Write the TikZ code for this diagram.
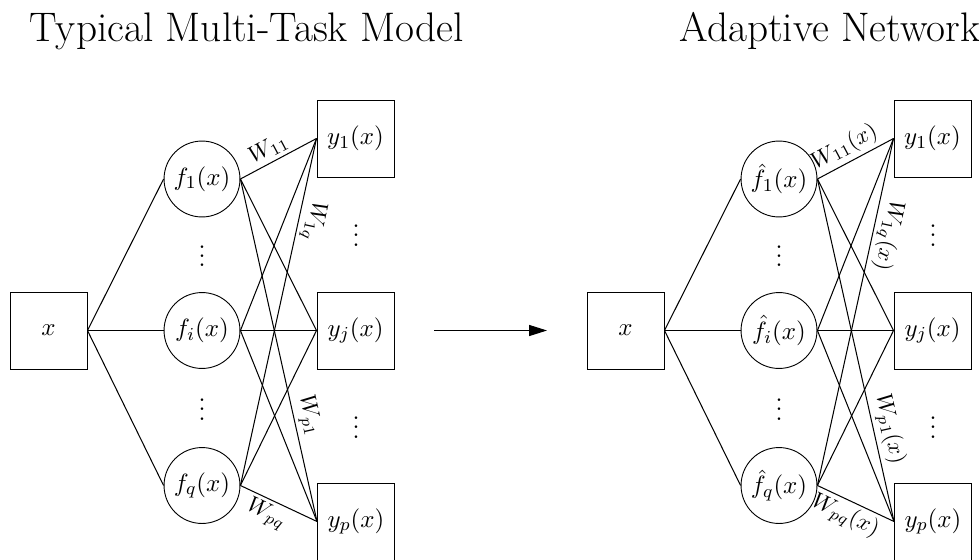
\documentclass[tikz,border=0pt]{standalone}
\usetikzlibrary{arrows.meta}
\begin{document}
\begin{tikzpicture}[x=0.4386pt,y=-0.4386pt,
  nodefont/.style={font=\fontsize{10.95}{13}\selectfont},
  outbox/.style={nodefont, draw, minimum size=33.8pt, inner sep=1pt},
  fcirc/.style={nodefont, draw, circle, minimum size=33.3pt, inner sep=0.5pt},
  titletext/.style={font=\fontsize{18.1}{22}\selectfont, anchor=base west, inner sep=0pt},
  wlab/.style={font=\fontsize{10.4}{12}\selectfont, sloped, allow upside down, inner sep=1.5pt},
  dotsnode/.style={nodefont, anchor=base, inner sep=0pt},
  conn/.style={draw, line width=0.45pt}]
\useasboundingbox (0,0) rectangle (979,559);

% titles
\node[titletext] (t1) at (29,42) {Typical Multi-Task Model};
\node[titletext] (t2) at (679,42) {Adaptive Network};

% ---------- left model ----------
\node[outbox] (xL) at (48.5,330.5) {$x$};
\node[fcirc] (f1L) at (202,179) {$f_1(x)$};
\node[fcirc] (fiL) at (202,330.5) {$f_i(x)$};
\node[fcirc] (fqL) at (202,485.5) {$f_q(x)$};
\node[outbox] (y1L) at (355.5,138.5) {$y_1(x)$};
\node[outbox] (yjL) at (355.5,330.5) {$y_j(x)$};
\node[outbox] (ypL) at (356,521.5) {$y_p(x)$};
\node[dotsnode] (d1L) at (202,266.5) {$\vdots$};
\node[dotsnode] (d2L) at (202,420) {$\vdots$};
\node[dotsnode] (d3L) at (356,246) {$\vdots$};
\node[dotsnode] (d4L) at (356,438) {$\vdots$};

\path[conn] (xL.east) -- (f1L.west);
\path[conn] (xL.east) -- (fiL.west);
\path[conn] (xL.east) -- (fqL.west);

\path[conn] (f1L.east) -- node[wlab, pos=0.45, above] {$W_{11}$} (y1L.west);
\path[conn] (f1L.east) -- (yjL.west);
\path[conn] (f1L.east) -- node[wlab, pos=0.7, above] {$W_{p1}$} (ypL.west);
\path[conn] (fiL.east) -- (y1L.west);
\path[conn] (fiL.east) -- (yjL.west);
\path[conn] (fiL.east) -- (ypL.west);
\path[conn] (y1L.west) -- node[wlab, pos=0.23, above] {$W_{1q}$} (fqL.east);
\path[conn] (fqL.east) -- (yjL.west);
\path[conn] (fqL.east) -- node[wlab, pos=0.42, below] {$W_{pq}$} (ypL.west);

% ---------- arrow ----------
\coordinate (a0) at (434,330.5);
\coordinate (a1) at (547,330.5);
\draw[line width=0.45pt, -{Triangle[length=7.8pt,width=4.8pt]}] (a0) -- (a1);

% ---------- right model ----------
\node[outbox] (xR) at (625.5,330.5) {$x$};
\node[fcirc] (f1R) at (779,179) {$\hat f_1(x)$};
\node[fcirc] (fiR) at (779,330.5) {$\hat f_i(x)$};
\node[fcirc] (fqR) at (779,485.5) {$\hat f_q(x)$};
\node[outbox] (y1R) at (932.5,138.5) {$y_1(x)$};
\node[outbox] (yjR) at (932.5,330.5) {$y_j(x)$};
\node[outbox] (ypR) at (933,521.5) {$y_p(x)$};
\node[dotsnode] (d1R) at (779,266.5) {$\vdots$};
\node[dotsnode] (d2R) at (779,420) {$\vdots$};
\node[dotsnode] (d3R) at (933,246) {$\vdots$};
\node[dotsnode] (d4R) at (933,438) {$\vdots$};

\path[conn] (xR.east) -- (f1R.west);
\path[conn] (xR.east) -- (fiR.west);
\path[conn] (xR.east) -- (fqR.west);

\path[conn] (f1R.east) -- node[wlab, pos=0.45, above] {$W_{11}(x)$} (y1R.west);
\path[conn] (f1R.east) -- (yjR.west);
\path[conn] (f1R.east) -- node[wlab, pos=0.74, above] {$W_{p1}(x)$} (ypR.west);
\path[conn] (fiR.east) -- (y1R.west);
\path[conn] (fiR.east) -- (yjR.west);
\path[conn] (fiR.east) -- (ypR.west);
\path[conn] (y1R.west) -- node[wlab, pos=0.27, above] {$W_{1q}(x)$} (fqR.east);
\path[conn] (fqR.east) -- (yjR.west);
\path[conn] (fqR.east) -- node[wlab, pos=0.45, below] {$W_{pq}(x)$} (ypR.west);
\end{tikzpicture}
\end{document}
